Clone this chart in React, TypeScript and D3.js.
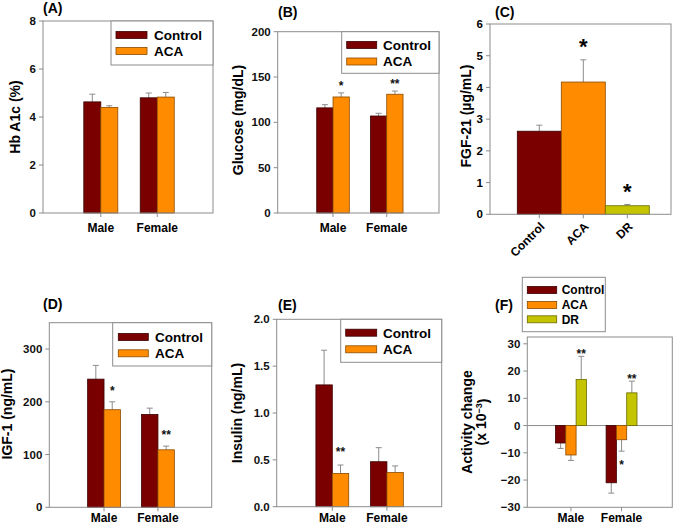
import React from 'react';
import * as d3 from 'd3';

// ---------- DATA ----------
const sexes = ['Male', 'Female'];
const twoGroups = ['Control', 'ACA'];
const threeGroups = ['Control', 'ACA', 'DR'];

// (A) Hb A1c (%)
const hbControl = [4.63, 4.80];
const hbControlErr = [0.32, 0.20];
const hbAca = [4.40, 4.83];
const hbAcaErr = [0.07, 0.19];

// (B) Glucose (mg/dL)
const gluControl = [116, 107];
const gluControlErr = [3.5, 3];
const gluAca = [128, 131];
const gluAcaErr = [4.5, 3.5];
const gluAcaStars = ['*', '**'];

// (C) FGF-21 (µg/mL)
const fgfValues = [2.62, 4.17, 0.27];
const fgfErr = [0.19, 0.70, 0.04];
const fgfStars = ['', '*', '*'];

// (D) IGF-1 (ng/mL)
const igfControl = [243, 176];
const igfControlErr = [26, 12];
const igfAca = [185, 109];
const igfAcaErr = [15, 7];
const igfAcaStars = ['*', '**'];

// (E) Insulin (ng/mL)
const insControl = [1.30, 0.48];
const insControlErr = [0.37, 0.15];
const insAca = [0.355, 0.365];
const insAcaErr = [0.09, 0.07];
const insAcaStars = ['**', ''];

// (F) Activity change (x 10^-3)
const actControl = [-6.4, -21];
const actControlErr = [2, 3.8];
const actAca = [-10.8, -5.2];
const actAcaErr = [2, 4.2];
const actAcaStars = ['', '*'];
const actDr = [16.9, 12];
const actDrErr = [8.5, 4.3];
const actDrStars = ['**', '**'];

const yTicksA = [0, 2, 4, 6, 8];
const yTicksB = [0, 50, 100, 150, 200];
const yTicksC = [0, 1, 2, 3, 4, 5, 6];
const yTicksD = [0, 100, 200, 300];
const yTicksE = [0, 0.5, 1.0, 1.5, 2.0];
const yTicksF = [-30, -20, -10, 0, 10, 20, 30];

// ---------- STYLE ----------
const COLORS: Record<string, string> = { Control: '#7a0000', ACA: '#ff8c00', DR: '#c4c400' };
const STROKES: Record<string, string> = { Control: '#3a0000', ACA: '#8a4a00', DR: '#6a6a00' };
const FONT = '"Liberation Sans", Arial, sans-serif';
const GRAY = '#8c8c8c';

type Series = { name: string; values: number[]; errors: number[]; stars?: string[] };

type Panel = {
  title: string;
  titleX: number;
  titleY: number;
  frame: [number, number, number, number]; // x0,x1,y0(top),y1(bottom)
  domain: [number, number];
  ticks: number[];
  fmt: (v: number) => string;
  yLabel: string;
  yLabel2?: boolean;
  yLabelX: number;
  yLabelY: number;
  series: Series[];
  f1: number;
  f2: number;
  barW: number;
  starOffset: number;
  xLabelOffset: number;
  legend: { box: [number, number, number, number]; sw: [number, number]; textX: number; rows: number[]; fs: number };
  zeroLine?: boolean;
};

const fmtInt = (v: number) => d3.format('d')(v);
const fmtF1 = (v: number) => d3.format('.1f')(v);
const fmtNeg = (v: number) => (v < 0 ? '\u2212' + Math.abs(v) : String(v));

const panels: Panel[] = [
  {
    title: '(A)', titleX: 43, titleY: 13,
    frame: [43, 213, 21, 213], domain: [0, 8], ticks: yTicksA, fmt: fmtInt,
    yLabel: 'Hb A1c (%)', yLabelX: 15, yLabelY: 117,
    series: [
      { name: twoGroups[0], values: hbControl, errors: hbControlErr },
      { name: twoGroups[1], values: hbAca, errors: hbAcaErr },
    ],
    f1: 0.34, f2: 0.672, barW: 17, starOffset: 12, xLabelOffset: 19,
    legend: { box: [111, 213, 21, 65], sw: [116, 147], textX: 154, rows: [35, 51], fs: 13.5 },
  },
  {
    title: '(B)', titleX: 278, titleY: 17,
    frame: [277.7, 439, 31.7, 213], domain: [0, 200], ticks: yTicksB, fmt: fmtInt,
    yLabel: 'Glucose (mg/dL)', yLabelX: 238, yLabelY: 120,
    series: [
      { name: twoGroups[0], values: gluControl, errors: gluControlErr },
      { name: twoGroups[1], values: gluAca, errors: gluAcaErr, stars: gluAcaStars },
    ],
    f1: 0.343, f2: 0.676, barW: 16.3, starOffset: 10, xLabelOffset: 19,
    legend: { box: [341.7, 439, 31.7, 73.3], sw: [346.7, 376.7], textX: 383, rows: [45, 61.5], fs: 13.5 },
  },
  {
    title: '(D)', titleX: 43, titleY: 309,
    frame: [49.3, 211.7, 322.7, 507.3], domain: [0, 350], ticks: yTicksD, fmt: fmtInt,
    yLabel: 'IGF-1 (ng/mL)', yLabelX: 7, yLabelY: 414,
    series: [
      { name: twoGroups[0], values: igfControl, errors: igfControlErr },
      { name: twoGroups[1], values: igfAca, errors: igfAcaErr, stars: igfAcaStars },
    ],
    f1: 0.337, f2: 0.669, barW: 16.4, starOffset: 14, xLabelOffset: 15,
    legend: { box: [112.7, 211.7, 322.7, 366], sw: [118.3, 148.3], textX: 155, rows: [337, 353.3], fs: 13.5 },
  },
  {
    title: '(E)', titleX: 278, titleY: 310,
    frame: [276.7, 441.7, 319.3, 506.7], domain: [0, 2], ticks: yTicksE, fmt: fmtF1,
    yLabel: 'Insulin (ng/mL)', yLabelX: 236.7, yLabelY: 413,
    series: [
      { name: twoGroups[0], values: insControl, errors: insControlErr },
      { name: twoGroups[1], values: insAca, errors: insAcaErr, stars: insAcaStars },
    ],
    f1: 0.337, f2: 0.668, barW: 16.4, starOffset: 16, xLabelOffset: 15.5,
    legend: { box: [340.7, 441.7, 319.3, 362.3], sw: [345.7, 376.7], textX: 383, rows: [332.7, 349.3], fs: 13.5 },
  },
  {
    title: '(F)', titleX: 495, titleY: 310,
    frame: [527.3, 672.3, 337, 507.3], domain: [-30, 32.5], ticks: yTicksF, fmt: fmtNeg,
    yLabel: 'Activity change', yLabel2: true, yLabelX: 466.7, yLabelY: 422,
    series: [
      { name: threeGroups[0], values: actControl, errors: actControlErr },
      { name: threeGroups[1], values: actAca, errors: actAcaErr, stars: actAcaStars },
      { name: threeGroups[2], values: actDr, errors: actDrErr, stars: actDrStars },
    ],
    f1: 0.301, f2: 0.65, barW: 10.3, starOffset: 5, xLabelOffset: 15,
    legend: { box: [522.3, 605.3, 277.3, 331.7], sw: [527.3, 556.7], textX: 561.7, rows: [290, 305, 319.3], fs: 12 },
    zeroLine: true,
  },
];

function Frame({ x0, x1, y0, y1 }: { x0: number; x1: number; y0: number; y1: number }) {
  return <rect x={x0} y={y0} width={x1 - x0} height={y1 - y0} fill="none" stroke={GRAY} strokeWidth={1} />;
}

function YAxis({ p, y }: { p: Panel; y: d3.ScaleLinear<number, number> }) {
  const [x0] = p.frame;
  return (
    <g>
      {p.ticks.map((t) => (
        <g key={t}>
          <line x1={x0 - 4} x2={x0} y1={y(t)} y2={y(t)} stroke={GRAY} />
          <text x={x0 - 7} y={y(t)} dy="0.36em" textAnchor="end" fontSize={11.5} fontWeight="bold" fill="#111">
            {p.fmt(t)}
          </text>
        </g>
      ))}
    </g>
  );
}

function Legend({ p }: { p: Panel }) {
  const L = p.legend;
  return (
    <g>
      <rect x={L.box[0]} y={L.box[2]} width={L.box[1] - L.box[0]} height={L.box[3] - L.box[2]} fill="#fff" stroke={GRAY} />
      {p.series.map((s, i) => (
        <g key={s.name}>
          <rect x={L.sw[0]} y={L.rows[i] - 3.5} width={L.sw[1] - L.sw[0]} height={7} fill={COLORS[s.name]} stroke={STROKES[s.name]} strokeWidth={0.8} />
          <text x={L.textX} y={L.rows[i]} dy="0.36em" fontSize={L.fs} fontWeight="bold">{s.name}</text>
        </g>
      ))}
    </g>
  );
}

function GroupedPanel({ p }: { p: Panel }) {
  const [x0, x1, y0, y1] = p.frame;
  const w = x1 - x0;
  const y = d3.scaleLinear().domain(p.domain).range([y1, y0]);
  const x = d3.scalePoint<string>().domain(sexes).range([x0 + p.f1 * w, x0 + p.f2 * w]);
  const names = p.series.map((s) => s.name);
  const n = names.length;
  const inner = d3.scaleBand<string>().domain(names).range([(-n * p.barW) / 2, (n * p.barW) / 2]);
  return (
    <g>
      <text x={p.titleX} y={p.titleY} fontSize={14} fontWeight="bold">{p.title}</text>
      {p.zeroLine && <line x1={x0} x2={x1} y1={y(0)} y2={y(0)} stroke={GRAY} />}
      {p.series.map((s) =>
        sexes.map((sex, i) => {
          const v = s.values[i];
          const e = s.errors[i];
          const bx = (x(sex) as number) + (inner(s.name) as number);
          const cx = bx + p.barW / 2;
          const top = Math.min(y(v), y(0));
          const h = Math.abs(y(v) - y(0));
          const ey = v >= 0 ? y(v + e) : y(v - e);
          const star = s.stars ? s.stars[i] : '';
          const sy = v >= 0 ? ey - p.starOffset : ey + 11;
          return (
            <g key={s.name + sex}>
              <line x1={cx} x2={cx} y1={y(v)} y2={ey} stroke={GRAY} />
              <line x1={cx - 3} x2={cx + 3} y1={ey} y2={ey} stroke={GRAY} />
              <rect x={bx} y={top} width={p.barW} height={h} fill={COLORS[s.name]} stroke={STROKES[s.name]} strokeWidth={0.8} />
              {star && (
                <text x={cx} y={sy + 0.57 * 12} textAnchor="middle" fontSize={12} fontWeight="bold" fill="#111">
                  {star}
                </text>
              )}
            </g>
          );
        })
      )}
      <Frame x0={x0} x1={x1} y0={y0} y1={y1} />
      <YAxis p={p} y={y} />
      {sexes.map((sex) => (
        <g key={sex}>
          <line x1={x(sex)} x2={x(sex)} y1={y1} y2={y1 + 4} stroke={GRAY} />
          <text x={x(sex)} y={y1 + p.xLabelOffset} textAnchor="middle" fontSize={12} fontWeight="bold">{sex}</text>
        </g>
      ))}
      <text transform={`translate(${p.yLabelX},${p.yLabelY}) rotate(-90)`} textAnchor="middle" dy="0.35em" fontSize={14} fontWeight="bold">
        {p.yLabel}
      </text>
      {p.yLabel2 && (
        <text transform={`translate(${p.yLabelX + 14},${p.yLabelY}) rotate(-90)`} textAnchor="middle" dy="0.35em" fontSize={14} fontWeight="bold">
          <tspan>(x 10</tspan>
          <tspan dy="-0.45em" fontSize={9}>{'\u22123'}</tspan>
          <tspan dy="0.45em">)</tspan>
        </text>
      )}
      <Legend p={p} />
    </g>
  );
}

function PanelC() {
  const x0 = 490, x1 = 671, y0 = 24, y1 = 214.3;
  const y = d3.scaleLinear().domain([0, 6]).range([y1, y0]);
  const x = d3.scaleBand<string>().domain(threeGroups).range([517.3, 649.3]).padding(0);
  const bw = x.bandwidth();
  return (
    <g>
      <text x={495} y={17} fontSize={14} fontWeight="bold">(C)</text>
      {threeGroups.map((g, i) => {
        const v = fgfValues[i];
        const e = fgfErr[i];
        const bx = x(g) as number;
        const cx = bx + bw / 2;
        const ey = y(v + e);
        return (
          <g key={g}>
            <line x1={cx} x2={cx} y1={y(v)} y2={ey} stroke={GRAY} />
            <line x1={cx - 3} x2={cx + 3} y1={ey} y2={ey} stroke={GRAY} />
            <rect x={bx} y={y(v)} width={bw} height={y(0) - y(v)} fill={COLORS[g]} stroke={STROKES[g]} strokeWidth={0.8} />
            {fgfStars[i] && (
              <text x={cx} y={ey - 18 + 0.57 * 22} textAnchor="middle" fontSize={22} fontWeight="bold">{fgfStars[i]}</text>
            )}
          </g>
        );
      })}
      <Frame x0={x0} x1={x1} y0={y0} y1={y1} />
      {yTicksC.map((t) => (
        <g key={t}>
          <line x1={x0 - 4} x2={x0} y1={y(t)} y2={y(t)} stroke={GRAY} />
          <text x={x0 - 7} y={y(t)} dy="0.36em" textAnchor="end" fontSize={11.5} fontWeight="bold">{t}</text>
        </g>
      ))}
      {threeGroups.map((g) => {
        const cx = (x(g) as number) + bw / 2;
        return (
          <g key={g}>
            <line x1={cx} x2={cx} y1={y1} y2={y1 + 4} stroke={GRAY} />
            <text transform={`translate(${cx + 6},${y1 + 13}) rotate(-45)`} textAnchor="end" fontSize={12} fontWeight="bold">{g}</text>
          </g>
        );
      })}
      <text transform={`translate(466,116) rotate(-90)`} textAnchor="middle" dy="0.35em" fontSize={14} fontWeight="bold">
        FGF-21 (µg/mL)
      </text>
    </g>
  );
}

export default function App() {
  return (
    <svg
      width={674}
      height={526}
      style={{ position: 'absolute', left: 0, top: 0, background: '#fff' }}
      fontFamily={FONT}
    >
      <rect x={0} y={0} width={674} height={526} fill="#fff" />
      {panels.map((p) => (
        <GroupedPanel key={p.title} p={p} />
      ))}
      <PanelC />
    </svg>
  );
}
